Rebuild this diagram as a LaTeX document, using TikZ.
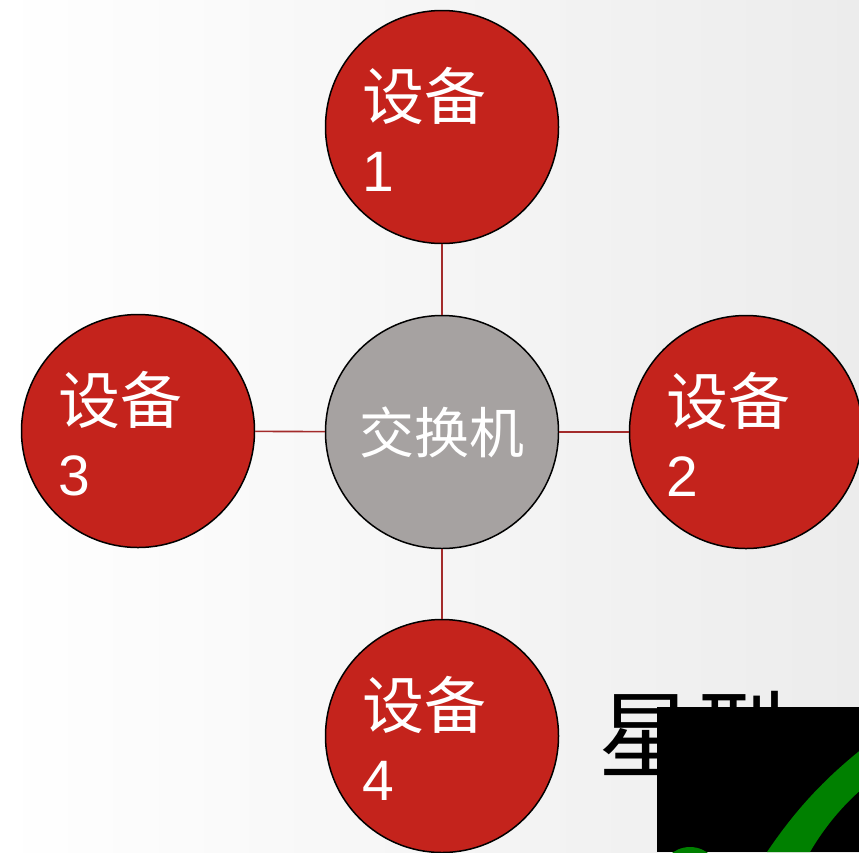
\documentclass[tikz,border=0pt]{standalone}
\usepackage{fontspec}
\setmainfont{Liberation Sans}
\newfontfamily\cjk{Noto Sans CJK SC}
\usetikzlibrary{calc}
\definecolor{devred}{HTML}{C4231C}
\definecolor{swgray}{HTML}{A6A2A1}
\definecolor{linkred}{HTML}{A32B2B}
\definecolor{okgreen}{HTML}{008000}
\definecolor{bgR}{HTML}{ECECEC}
\begin{document}
\begin{tikzpicture}[x=1pt,y=-1pt,
  dev/.style={circle, draw=black, line width=1.5pt, fill=devred, minimum size=233pt, inner sep=0},
  sw/.style={circle, draw=black, line width=1.5pt, fill=swgray, minimum size=233pt, inner sep=0, text=white, font=\cjk\fontsize{55}{60}\selectfont},
  devtext/.style={anchor=north west, inner sep=0, text=white, align=left, font=\fontsize{57}{72}\selectfont},
  link/.style={draw=linkred, line width=1.6pt},
  title/.style={anchor=base west, inner sep=0, text=black, font=\cjk\fontsize{95}{95}\selectfont}]
\shade[left color=white, right color=bgR] (0,0) rectangle (859,852);
\useasboundingbox (0,0) rectangle (859,852);
\node[sw] (sw) at (442,432) {交换机};
\node[dev] (d1) at (442,127) {};
\node[dev] (d2) at (746,432) {};
\node[dev] (d3) at (138,431) {};
\node[dev] (d4) at (442,736) {};
\draw[link] (sw) -- (d1);
\draw[link] (sw) -- (d2);
\draw[link] (sw) -- (d3);
\draw[link] (sw) -- (d4);
\node[devtext] (t1) at ($(d1.center)+(-80,-60)$) {{\cjk\fontsize{62}{72}\selectfont 设备}\\1};
\node[devtext] (t2) at ($(d2.center)+(-80,-60)$) {{\cjk\fontsize{62}{72}\selectfont 设备}\\2};
\node[devtext] (t3) at ($(d3.center)+(-80,-60)$) {{\cjk\fontsize{62}{72}\selectfont 设备}\\3};
\node[devtext] (t4) at ($(d4.center)+(-80,-60)$) {{\cjk\fontsize{62}{72}\selectfont 设备}\\4};
\node[title] (ttl) at (598,770) {星型};
\fill[black] (657,707) rectangle (859,852);
\begin{scope}
\clip (657,707) rectangle (859,852);
\fill[okgreen] (767,852) .. controls (798,806) and (828,776) .. (863,748) -- (863,788) .. controls (842,806) and (824,828) .. (810,852) -- cycle;
\fill[okgreen] (690,877) circle (30);
\end{scope}
\end{tikzpicture}
\end{document}
